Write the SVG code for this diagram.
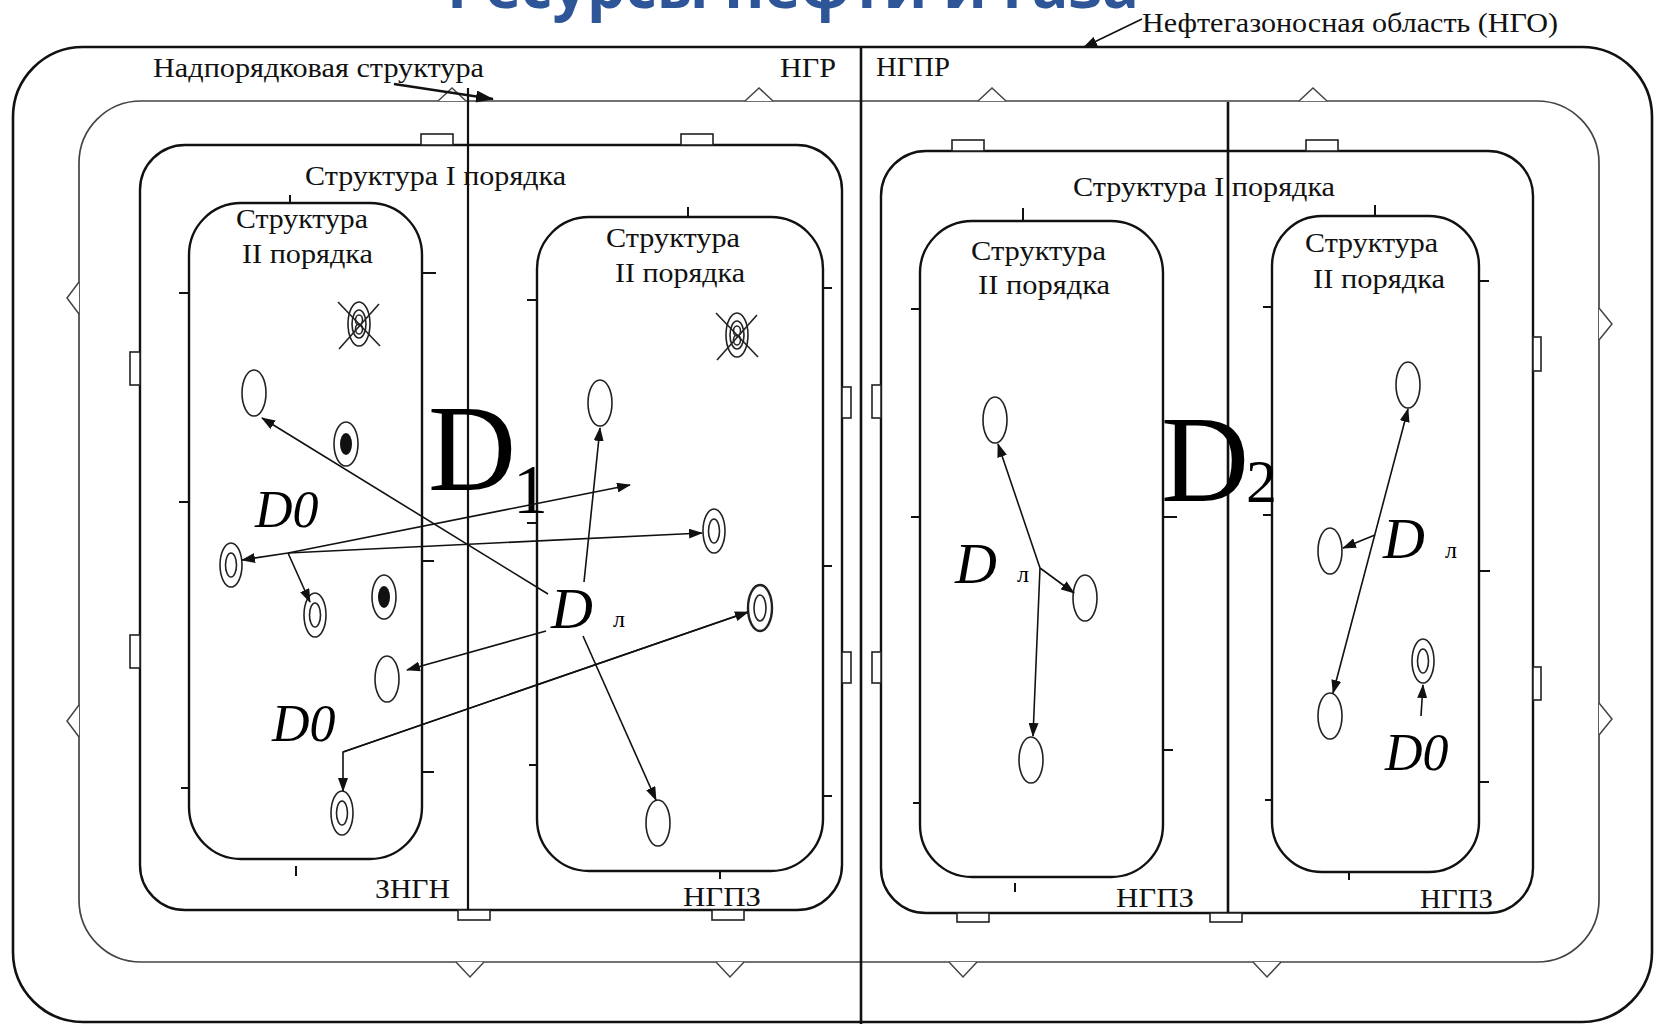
<svg xmlns="http://www.w3.org/2000/svg" xmlns:xlink="http://www.w3.org/1999/xlink" width="1660" height="1024" viewBox="0 0 1660 1024">
<style>
  .bg { fill: #ffffff; }
  .outer { fill: none; stroke: #111; stroke-width: 2.6; }
  .super { fill: none; stroke: #444; stroke-width: 1.7; }
  .s1 { fill: none; stroke: #111; stroke-width: 2.4; }
  .s2 { fill: none; stroke: #111; stroke-width: 2.4; }
  .vline { stroke: #111; stroke-width: 2.6; fill: none; }
  .vthin { stroke: #111; stroke-width: 2.2; fill: none; }
  .tick { stroke: #111; stroke-width: 2; fill: none; }
  .tab { fill: #fff; stroke: #222; stroke-width: 1.6; }
  .tri { fill: #fff; stroke: #444; stroke-width: 1.5; }
  .well { fill: none; stroke: #222; stroke-width: 1.6; }
  .wfill { fill: #111; stroke: none; }
  .conn { fill: none; stroke: #111; stroke-width: 1.6; }
  .connb { fill: none; stroke: #111; stroke-width: 2.4; }
  .lbl { font-family: "Liberation Serif", "Times New Roman", serif; fill: #111; font-size: 27px; }
  .big { font-family: "Liberation Serif", "Times New Roman", serif; fill: #000; }
  .it { font-family: "Liberation Serif", "Times New Roman", serif; font-style: italic; fill: #000; }
  .title { font-family: "Open Sans", "Liberation Sans", sans-serif; font-weight: bold; fill: #2E5597; font-size: 60px; }
</style>
<defs>
  <marker id="ah" viewBox="0 0 14 10" refX="13" refY="5" markerWidth="14" markerHeight="10" markerUnits="userSpaceOnUse" orient="auto-start-reverse">
    <path d="M0,0 L14,5 L0,10 z" fill="#111"/>
  </marker>
  <marker id="ahb" viewBox="0 0 18 12" refX="17" refY="6" markerWidth="18" markerHeight="12" markerUnits="userSpaceOnUse" orient="auto">
    <path d="M0,0 L18,6 L0,12 z" fill="#111"/>
  </marker>
  <g id="w-empty"><ellipse class="well" cx="0" cy="0" rx="12" ry="23"/></g>
  <g id="w-ring"><ellipse class="well" cx="0" cy="0" rx="11" ry="22"/><ellipse class="well" cx="0" cy="0" rx="5.5" ry="12"/></g>
  <g id="w-ring-b"><ellipse class="well" cx="0" cy="0" rx="12" ry="23" style="stroke-width:2.4"/><ellipse class="well" cx="0" cy="0" rx="6" ry="13"/></g>
  <g id="w-filled"><ellipse class="well" cx="0" cy="0" rx="12" ry="22"/><ellipse class="wfill" cx="0" cy="0" rx="6" ry="11"/></g>
  <g id="w-crossed"><ellipse class="well" cx="0" cy="0" rx="11" ry="22"/><ellipse class="well" cx="0" cy="0" rx="7" ry="14"/><ellipse class="well" cx="0" cy="-4" rx="3.5" ry="5"/><ellipse class="well" cx="0" cy="5" rx="3.5" ry="5"/><line class="well" x1="-21" y1="-22" x2="21" y2="22"/><line class="well" x1="20" y1="-20" x2="-20" y2="25"/></g>
</defs>

<rect class="bg" x="0" y="0" width="1660" height="1024"/>

<g id="title">
  <text class="title" x="447" y="8" textLength="692" lengthAdjust="spacingAndGlyphs">Ресурсы нефти и газа</text>
</g>

<!-- Oil and gas region (outer) -->
<g id="ngo">
  <rect class="outer" x="13" y="47" width="1639" height="975" rx="70" ry="70"/>
  <text class="lbl" x="1142" y="32" textLength="416" lengthAdjust="spacingAndGlyphs">Нефтегазоносная область (НГО)</text>
</g>

<!-- Super-order structure -->
<g id="super-structure">
  <rect class="super" x="79" y="101" width="1520" height="861" rx="62" ry="62"/>
  <g id="super-marks">
    <path class="tri" d="M438,101 L452,88 L466,101"/>
    <path class="tri" d="M745,101 L759,88 L773,101"/>
    <path class="tri" d="M978,101 L992,88 L1006,101"/>
    <path class="tri" d="M1299,101 L1313,88 L1327,101"/>
    <path class="tri" d="M456,962 L470,977 L484,962"/>
    <path class="tri" d="M716,962 L730,977 L744,962"/>
    <path class="tri" d="M949,962 L963,977 L977,962"/>
    <path class="tri" d="M1253,962 L1267,977 L1281,962"/>
    <path class="tri" d="M79,282 L67,298 L79,314"/>
    <path class="tri" d="M79,705 L67,721 L79,737"/>
    <path class="tri" d="M1599,308 L1612,324 L1599,340"/>
    <path class="tri" d="M1599,703 L1612,719 L1599,735"/>
  </g>
  <text class="lbl" x="153" y="77" textLength="331" lengthAdjust="spacingAndGlyphs">Надпорядковая структура</text>
</g>

<g id="region-labels">
  <text class="lbl" x="780" y="77" textLength="56" lengthAdjust="spacingAndGlyphs">НГР</text>
  <text class="lbl" x="876" y="76" textLength="74" lengthAdjust="spacingAndGlyphs">НГПР</text>
</g>

<!-- Structure I order, left -->
<g id="struct1-left">
  <rect class="s1" x="140" y="145" width="702" height="765" rx="45" ry="45"/>
  <rect class="tab" x="421" y="134" width="32" height="11"/>
  <rect class="tab" x="681" y="134" width="32" height="11"/>
  <rect class="tab" x="458" y="910" width="32" height="10"/>
  <rect class="tab" x="712" y="910" width="32" height="10"/>
  <rect class="tab" x="130" y="352" width="10" height="33"/>
  <rect class="tab" x="130" y="635" width="10" height="33"/>
  <rect class="tab" x="842" y="387" width="9" height="31"/>
  <rect class="tab" x="842" y="652" width="9" height="31"/>
  <text class="lbl" x="305" y="185" textLength="261" lengthAdjust="spacingAndGlyphs">Структура I порядка</text>
  <text class="lbl" x="375" y="898" textLength="75" lengthAdjust="spacingAndGlyphs">ЗНГН</text>
  <text class="lbl" x="683" y="906" textLength="78" lengthAdjust="spacingAndGlyphs">НГПЗ</text>
</g>

<!-- Structure I order, right -->
<g id="struct1-right">
  <rect class="s1" x="881" y="151" width="652" height="762" rx="45" ry="45"/>
  <rect class="tab" x="952" y="140" width="32" height="11"/>
  <rect class="tab" x="1306" y="140" width="32" height="11"/>
  <rect class="tab" x="957" y="913" width="32" height="9"/>
  <rect class="tab" x="1210" y="913" width="32" height="9"/>
  <rect class="tab" x="872" y="385" width="9" height="33"/>
  <rect class="tab" x="872" y="652" width="9" height="31"/>
  <rect class="tab" x="1533" y="337" width="8" height="34"/>
  <rect class="tab" x="1533" y="667" width="8" height="33"/>
  <text class="lbl" x="1073" y="196" textLength="262" lengthAdjust="spacingAndGlyphs">Структура I порядка</text>
  <text class="lbl" x="1116" y="907" textLength="78" lengthAdjust="spacingAndGlyphs">НГПЗ</text>
  <text class="lbl" x="1420" y="908" textLength="73" lengthAdjust="spacingAndGlyphs">НГПЗ</text>
</g>

<!-- Boundary lines -->
<g id="boundaries">
  <line class="vthin" x1="468" y1="88" x2="468" y2="910"/>
  <line class="vline" x1="861" y1="47" x2="861" y2="1024"/>
  <line class="vline" x1="1228" y1="102" x2="1228" y2="913"/>
</g>

<!-- Structure II order, left-left -->
<g id="struct2-ll">
  <rect class="s2" x="189" y="203" width="233" height="656" rx="52" ry="52"/>
  <line class="tick" x1="179" y1="293" x2="189" y2="293"/>
  <line class="tick" x1="179" y1="502" x2="189" y2="502"/>
  <line class="tick" x1="181" y1="788" x2="189" y2="788"/>
  <line class="tick" x1="422" y1="273" x2="436" y2="273"/>
  <line class="tick" x1="422" y1="561" x2="434" y2="561"/>
  <line class="tick" x1="422" y1="772" x2="434" y2="772"/>
  <line class="tick" x1="290" y1="195" x2="290" y2="203"/>
  <line class="tick" x1="296" y1="866" x2="296" y2="876"/>
  <text class="lbl" x="236" y="228" textLength="132" lengthAdjust="spacingAndGlyphs">Структура</text>
  <text class="lbl" x="242" y="263" textLength="131" lengthAdjust="spacingAndGlyphs">II порядка</text>
</g>

<!-- Structure II order, left-right -->
<g id="struct2-lr">
  <rect class="s2" x="537" y="217" width="286" height="654" rx="52" ry="52"/>
  <line class="tick" x1="527" y1="300" x2="537" y2="300"/>
  <line class="tick" x1="527" y1="523" x2="537" y2="523"/>
  <line class="tick" x1="529" y1="765" x2="537" y2="765"/>
  <line class="tick" x1="823" y1="288" x2="832" y2="288"/>
  <line class="tick" x1="823" y1="566" x2="832" y2="566"/>
  <line class="tick" x1="823" y1="796" x2="832" y2="796"/>
  <line class="tick" x1="688" y1="207" x2="688" y2="217"/>
  <line class="tick" x1="720" y1="871" x2="720" y2="879"/>
  <text class="lbl" x="606" y="247" textLength="134" lengthAdjust="spacingAndGlyphs">Структура</text>
  <text class="lbl" x="615" y="282" textLength="130" lengthAdjust="spacingAndGlyphs">II порядка</text>
</g>

<!-- Structure II order, right-left -->
<g id="struct2-rl">
  <rect class="s2" x="920" y="221" width="243" height="656" rx="52" ry="52"/>
  <line class="tick" x1="911" y1="309" x2="920" y2="309"/>
  <line class="tick" x1="911" y1="517" x2="920" y2="517"/>
  <line class="tick" x1="913" y1="803" x2="920" y2="803"/>
  <line class="tick" x1="1163" y1="517" x2="1177" y2="517"/>
  <line class="tick" x1="1163" y1="750" x2="1173" y2="750"/>
  <line class="tick" x1="1023" y1="208" x2="1023" y2="221"/>
  <line class="tick" x1="1015" y1="883" x2="1015" y2="892"/>
  <text class="lbl" x="971" y="260" textLength="135" lengthAdjust="spacingAndGlyphs">Структура</text>
  <text class="lbl" x="978" y="294" textLength="132" lengthAdjust="spacingAndGlyphs">II порядка</text>
</g>

<!-- Structure II order, right-right -->
<g id="struct2-rr">
  <rect class="s2" x="1272" y="216" width="207" height="656" rx="50" ry="50"/>
  <line class="tick" x1="1263" y1="307" x2="1272" y2="307"/>
  <line class="tick" x1="1263" y1="515" x2="1272" y2="515"/>
  <line class="tick" x1="1265" y1="800" x2="1272" y2="800"/>
  <line class="tick" x1="1479" y1="281" x2="1489" y2="281"/>
  <line class="tick" x1="1479" y1="571" x2="1490" y2="571"/>
  <line class="tick" x1="1479" y1="782" x2="1489" y2="782"/>
  <line class="tick" x1="1375" y1="205" x2="1375" y2="216"/>
  <line class="tick" x1="1349" y1="872" x2="1349" y2="880"/>
  <text class="lbl" x="1305" y="252" textLength="133" lengthAdjust="spacingAndGlyphs">Структура</text>
  <text class="lbl" x="1313" y="288" textLength="132" lengthAdjust="spacingAndGlyphs">II порядка</text>
</g>

<!-- Big labels -->
<g id="label-d1">
  <text class="big" x="428" y="490" font-size="122">D</text>
  <text class="big" x="513" y="513" font-size="70">1</text>
</g>
<g id="label-d2">
  <text class="big" x="1161" y="501" font-size="122">D</text>
  <text class="big" x="1246" y="502" font-size="62">2</text>
</g>

<!-- Wells -->
<g id="wells-ll">
  <use href="#w-crossed" x="359" y="324"/>
  <use href="#w-empty" x="254" y="393"/>
  <use href="#w-filled" x="346" y="444"/>
  <use href="#w-ring" x="231" y="565"/>
  <use href="#w-ring" x="315" y="615"/>
  <use href="#w-filled" x="384" y="597"/>
  <use href="#w-empty" x="387" y="679"/>
  <use href="#w-ring" x="342" y="813"/>
</g>
<g id="wells-lr">
  <use href="#w-crossed" x="737" y="335"/>
  <use href="#w-empty" x="600" y="403"/>
  <use href="#w-ring" x="714" y="531"/>
  <use href="#w-ring-b" x="760" y="608"/>
  <use href="#w-empty" x="658" y="823"/>
</g>
<g id="wells-rl">
  <use href="#w-empty" x="995" y="420"/>
  <use href="#w-empty" x="1085" y="598"/>
  <use href="#w-empty" x="1031" y="760"/>
</g>
<g id="wells-rr">
  <use href="#w-empty" x="1408" y="385"/>
  <use href="#w-empty" x="1330" y="551"/>
  <use href="#w-empty" x="1330" y="716"/>
  <use href="#w-ring" x="1423" y="661"/>
</g>

<!-- D labels -->
<g id="label-d0-a"><text class="it" x="255" y="527" font-size="52">D0</text></g>
<g id="label-d0-b"><text class="it" x="272" y="741" font-size="52">D0</text></g>
<g id="label-d0-c"><text class="it" x="1385" y="770" font-size="52">D0</text></g>
<g id="label-dl-a"><text class="it" x="551" y="628" font-size="58">D</text><text class="big" x="613" y="627" font-size="24">л</text></g>
<g id="label-dl-b"><text class="it" x="955" y="583" font-size="58">D</text><text class="big" x="1017" y="582" font-size="24">л</text></g>
<g id="label-dl-c"><text class="it" x="1383" y="558" font-size="58">D</text><text class="big" x="1445" y="558" font-size="24">л</text></g>

<!-- Connectors -->
<g id="connectors">
  <line class="conn" x1="1142" y1="19" x2="1084" y2="47" marker-end="url(#ah)"/>
  <line class="connb" x1="394" y1="84" x2="493" y2="99" marker-end="url(#ahb)"/>
  <line class="conn" x1="548" y1="594" x2="262" y2="418" marker-end="url(#ah)"/>
  <line class="conn" x1="288" y1="553" x2="630" y2="485" marker-end="url(#ah)"/>
  <line class="conn" x1="288" y1="553" x2="702" y2="533" marker-end="url(#ah)"/>
  <line class="conn" x1="288" y1="553" x2="242" y2="560" marker-end="url(#ah)"/>
  <line class="conn" x1="288" y1="553" x2="310" y2="602" marker-end="url(#ah)"/>
  <line class="conn" x1="546" y1="631" x2="407" y2="670" marker-end="url(#ah)"/>
  <line class="conn" x1="584" y1="582" x2="600" y2="428" marker-end="url(#ah)"/>
  <line class="conn" x1="583" y1="636" x2="656" y2="800" marker-end="url(#ah)"/>
  <polyline class="conn" points="748,612 343,752 343,791" marker-end="url(#ah)"/>
  <line class="conn" x1="343" y1="752" x2="748" y2="612" marker-end="url(#ah)"/>
  <line class="conn" x1="1040" y1="568" x2="998" y2="444" marker-end="url(#ah)"/>
  <line class="conn" x1="1040" y1="568" x2="1074" y2="593" marker-end="url(#ah)"/>
  <line class="conn" x1="1040" y1="568" x2="1033" y2="736" marker-end="url(#ah)"/>
  <line class="conn" x1="1408" y1="409" x2="1333" y2="693" marker-start="url(#ah)" marker-end="url(#ah)"/>
  <line class="conn" x1="1375" y1="535" x2="1343" y2="548" marker-end="url(#ah)"/>
  <line class="conn" x1="1421" y1="716" x2="1423" y2="685" marker-end="url(#ah)"/>
</g>
</svg>
